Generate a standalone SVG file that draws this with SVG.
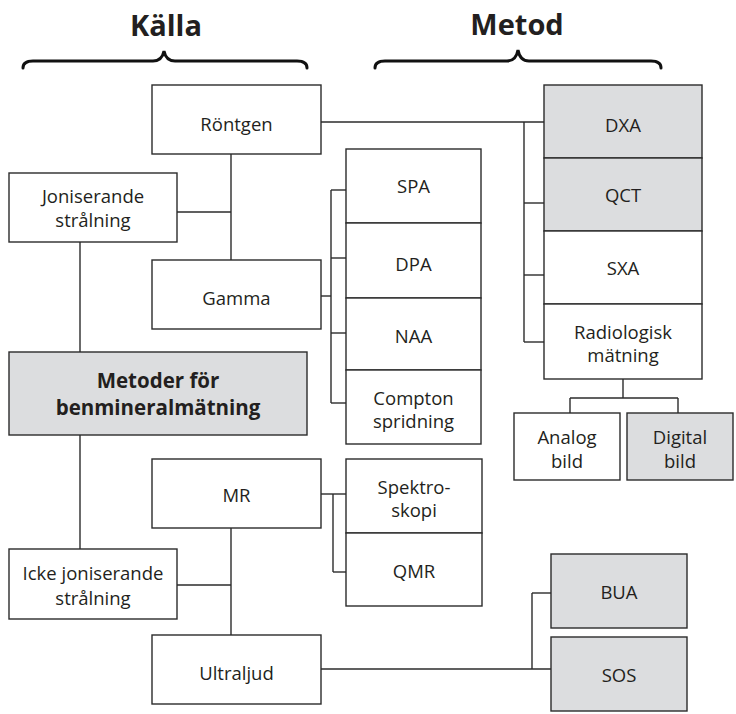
<svg xmlns="http://www.w3.org/2000/svg" width="736" height="714" viewBox="0 0 736 714">
<style>
.b{fill:#fff;stroke:#2b2b2b;stroke-width:1.4}
.g{fill:#dcdddf;stroke:#2b2b2b;stroke-width:1.4}
.t{font-family:"Open Sans","Liberation Sans",sans-serif;font-size:18.5px;fill:#231f20;text-anchor:middle}
.tb{font-family:"Open Sans","Liberation Sans",sans-serif;font-size:20.5px;font-weight:bold;fill:#231f20;text-anchor:middle}
.h{font-family:"Open Sans","Liberation Sans",sans-serif;font-size:29px;font-weight:bold;fill:#231f20;text-anchor:middle}
.br{fill:none;stroke:#111;stroke-width:3;stroke-linecap:round}
.c line{stroke:#2b2b2b;stroke-width:1.4}
</style>
<rect width="736" height="714" fill="#fff"/>
<g id="headers">
<text class="h" x="166" y="36">Källa</text>
<text class="h" x="517" y="35">Metod</text>
<path class="br" d="M23,68 Q23,61 33,61 L153,61 Q162,61 164,51 Q166,61 175,61 L297,61 Q307,61 307,68"/>
<path class="br" d="M375,68 Q375,61 385,61 L507,61 Q516,61 518,50 Q520,61 529,61 L651,61 Q661,61 661,68"/>
</g>
<g id="connectors" class="c">
<line x1="321" y1="122" x2="544" y2="122"/>
<line x1="524" y1="122" x2="524" y2="342"/>
<line x1="524" y1="203" x2="544" y2="203"/>
<line x1="524" y1="275" x2="544" y2="275"/>
<line x1="524" y1="342" x2="544" y2="342"/>
<line x1="231" y1="154" x2="231" y2="260"/>
<line x1="177" y1="212" x2="231" y2="212"/>
<line x1="80" y1="242" x2="80" y2="352"/>
<line x1="321" y1="296" x2="331" y2="296"/>
<line x1="331" y1="190" x2="331" y2="403"/>
<line x1="331" y1="190" x2="346" y2="190"/>
<line x1="331" y1="258" x2="346" y2="258"/>
<line x1="331" y1="333" x2="346" y2="333"/>
<line x1="331" y1="403" x2="346" y2="403"/>
<line x1="623" y1="379" x2="623" y2="398"/>
<line x1="570" y1="398" x2="678" y2="398"/>
<line x1="570" y1="398" x2="570" y2="413"/>
<line x1="678" y1="398" x2="678" y2="413"/>
<line x1="80" y1="435" x2="80" y2="549"/>
<line x1="321" y1="494" x2="346" y2="494"/>
<line x1="333" y1="494" x2="333" y2="572"/>
<line x1="333" y1="572" x2="346" y2="572"/>
<line x1="231" y1="528" x2="231" y2="635"/>
<line x1="177" y1="585" x2="231" y2="585"/>
<line x1="321" y1="669" x2="551" y2="669"/>
<line x1="532" y1="593" x2="532" y2="669"/>
<line x1="532" y1="593" x2="551" y2="593"/>
</g>
<g id="rontgen"><rect class="b" x="152" y="85" width="169" height="69"/><text class="t" x="236.5" y="131">Röntgen</text></g>
<g id="joniserande"><rect class="b" x="9" y="173" width="168" height="69"/><text class="t" x="93" y="203">Joniserande</text><text class="t" x="93" y="227">strålning</text></g>
<g id="gamma"><rect class="b" x="152" y="260" width="169" height="69"/><text class="t" x="236.5" y="305">Gamma</text></g>
<g id="metoder"><rect class="g" x="9" y="352" width="298" height="83"/><text class="tb" x="158" y="388">Metoder för</text><text class="tb" x="158" y="415">benmineralmätning</text></g>
<g id="mr"><rect class="b" x="152" y="459" width="169" height="69"/><text class="t" x="236.5" y="502">MR</text></g>
<g id="icke"><rect class="b" x="9" y="549" width="168" height="70"/><text class="t" x="93" y="580">Icke joniserande</text><text class="t" x="93" y="605">strålning</text></g>
<g id="ultraljud"><rect class="b" x="152" y="635" width="169" height="69"/><text class="t" x="236.5" y="680">Ultraljud</text></g>
<g id="spa"><rect class="b" x="346" y="149" width="135" height="74"/><text class="t" x="413.5" y="193">SPA</text></g>
<g id="dpa"><rect class="b" x="346" y="223" width="135" height="75"/><text class="t" x="413.5" y="271">DPA</text></g>
<g id="naa"><rect class="b" x="346" y="298" width="135" height="72"/><text class="t" x="413.5" y="343">NAA</text></g>
<g id="compton"><rect class="b" x="346" y="370" width="135" height="74"/><text class="t" x="413.5" y="405">Compton</text><text class="t" x="413.5" y="428">spridning</text></g>
<g id="spektro"><rect class="b" x="346" y="459" width="136" height="74"/><text class="t" x="414" y="494">Spektro-</text><text class="t" x="414" y="517">skopi</text></g>
<g id="qmr"><rect class="b" x="346" y="533" width="136" height="73"/><text class="t" x="414" y="578">QMR</text></g>
<g id="dxa"><rect class="g" x="544" y="85" width="158" height="73"/><text class="t" x="623" y="132">DXA</text></g>
<g id="qct"><rect class="g" x="544" y="158" width="158" height="73"/><text class="t" x="623" y="202">QCT</text></g>
<g id="sxa"><rect class="b" x="544" y="231" width="158" height="73"/><text class="t" x="623" y="275">SXA</text></g>
<g id="radiologisk"><rect class="b" x="544" y="304" width="158" height="75"/><text class="t" x="623" y="339">Radiologisk</text><text class="t" x="623" y="362">mätning</text></g>
<g id="analog"><rect class="b" x="514" y="413" width="106" height="67"/><text class="t" x="567" y="444">Analog</text><text class="t" x="567" y="468">bild</text></g>
<g id="digital"><rect class="g" x="627" y="413" width="106" height="67"/><text class="t" x="680" y="444">Digital</text><text class="t" x="680" y="468">bild</text></g>
<g id="bua"><rect class="g" x="551" y="554" width="136" height="74"/><text class="t" x="619" y="599">BUA</text></g>
<g id="sos"><rect class="g" x="551" y="637" width="136" height="74"/><text class="t" x="619" y="682">SOS</text></g>
</svg>
